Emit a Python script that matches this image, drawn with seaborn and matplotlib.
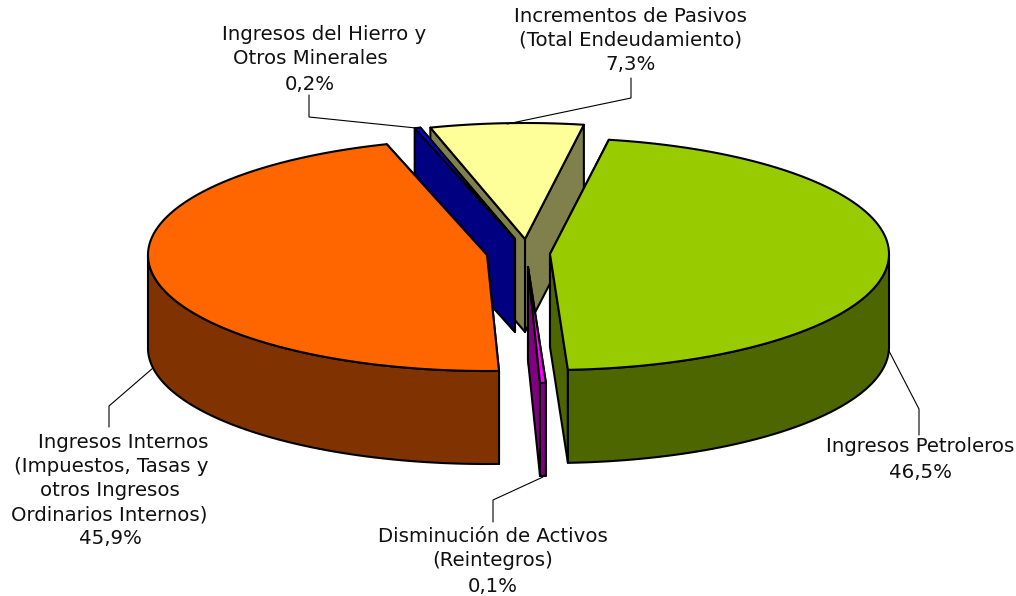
import numpy as np
import matplotlib
matplotlib.use('Agg')
import matplotlib.pyplot as plt
import seaborn as sns

# chart data
names = ['Ingresos Petroleros', 'Disminución de Activos', 'Ingresos Internos',
         'Ingresos del Hierro', 'Incrementos de Pasivos']
shares = [46.5, 0.1, 45.9, 0.2, 7.3]
top_colors = ['#99CC00', '#FF00FF', '#FF6600', '#0000FF', '#FFFF99']

# label text per slice, the percentage is added from shares
label_lines = [
	['Ingresos Petroleros'],
	['Disminución de Activos', '(Reintegros)'],
	['Ingresos Internos', '(Impuestos, Tasas y', 'otros Ingresos', 'Ordinarios Internos)'],
	['Ingresos del Hierro y', 'Otros Minerales'],
	['Incrementos de Pasivos', '(Total Endeudamiento)'],
]

# layout of the fake 3d pie, in pixels of the 1016x596 picture
RX, RY, DEPTH = 339, 116, 93
START_ANGLE = 10.0  # clockwise from the top
MIN_SPAN = 1.0  # very thin slices are drawn a bit wider so they show
apex_pos = [(550, 254), (528, 267), (487, 255), (515, 239), (525, 239)]
draw_order = [4, 3, 2, 1, 0]
label_x = [[920, 920], [493, 493, 493], [123, 111, 110, 109, 110], [324, 310, 310], [631, 631, 631]]
label_y = [[447, 472], [537, 561, 586], [442, 466, 490, 515, 538], [35, 59, 84], [17, 40, 64]]
leaders = [
	[(919, 435), (919, 409), (889, 351)],
	[(493, 522), (493, 500), (543, 477)],
	[(109, 427), (109, 406), (153, 368)],
	[(309, 95), (309, 117), (416, 128)],
	[(631, 78), (631, 98), (507, 124)],
]

LINE_W = 1.5


def slice_spans():
	spans = np.maximum(np.array(shares) * 3.6, MIN_SPAN)
	spans = spans * 360 / spans.sum()
	ends = START_ANGLE + np.cumsum(spans)
	return ends - spans, ends


def rim_points(apex, a0, a1):
	angles = np.radians(np.linspace(a0, a1, max(int(a1 - a0) * 2, 2)))
	return apex[0] + RX * np.sin(angles), apex[1] - RY * np.cos(angles)


def draw_slice(ax, apex, a0, a1, top, wall):
	x, y = rim_points(apex, a0, a1)
	kw = dict(edgecolor='black', linewidth=LINE_W, joinstyle='round')
	# the two cut faces, right one first so the left one covers it
	faces = sorted([(x[0], y[0]), (x[-1], y[-1])], reverse=True)
	for rx, ry in faces:
		ax.fill([apex[0], rx, rx, apex[0]], [apex[1], ry, ry + DEPTH, apex[1] + DEPTH],
			facecolor=wall, **kw)
	# outer wall, only the part in front of the pie is seen
	lo, hi = max(a0, 90), min(a1, 270)
	if hi > lo:
		wx, wy = rim_points(apex, lo, hi)
		ax.fill(np.r_[wx, wx[::-1]], np.r_[wy, wy[::-1] + DEPTH], facecolor=wall, **kw)
	ax.fill(np.r_[apex[0], x], np.r_[apex[1], y], facecolor=top, **kw)


sns.set_theme(style='white')
plt.rcParams['font.family'] = ['DejaVu Sans']
palette = sns.color_palette(top_colors)

fig = plt.figure(figsize=(10.16, 5.96), dpi=100)
ax = fig.add_axes([0, 0, 1, 1])
ax.set_xlim(0, 1016)
ax.set_ylim(596, 0)
ax.axis('off')

starts, ends = slice_spans()
for i in draw_order:
	top = palette[i]
	wall = tuple(c / 2 for c in top)
	draw_slice(ax, apex_pos[i], starts[i], ends[i], top, wall)

for pts in leaders:
	ax.plot(*zip(*pts), color='black', linewidth=0.8, solid_joinstyle='miter')

for lines, share, xs, ys in zip(label_lines, shares, label_x, label_y):
	pct = f'{share:.1f}%'.replace('.', ',')
	for txt, x, y in zip(lines + [pct], xs, ys):
		ax.text(x, y, txt, ha='center', va='center', fontsize=14.2, color='#111111')

fig.savefig('out.png', dpi=100)
plt.close(fig)
